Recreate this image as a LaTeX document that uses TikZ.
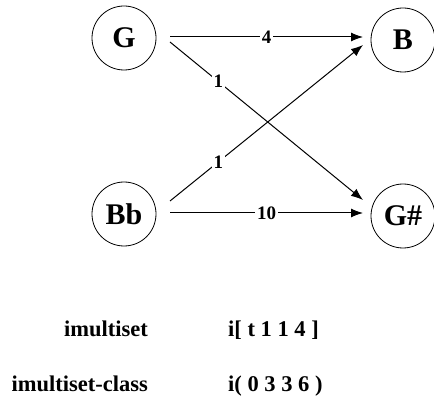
\documentclass[tikz,border=0pt]{standalone}
\usepackage{fontspec}
\setmainfont{Liberation Serif}
\usetikzlibrary{arrows.meta}
\begin{document}
\begin{tikzpicture}[x=1pt,y=-1pt,
  note/.style={circle,draw,line width=0.8pt,minimum size=64pt,inner sep=0pt,font=\fontsize{30}{32}\selectfont\bfseries},
  conn/.style={line width=1pt,-{Latex[length=12pt,width=9pt]}},
  wt/.style={fill=white,inner sep=2pt,font=\fontsize{19}{20}\selectfont\bfseries},
  lbl/.style={font=\fontsize{22.5}{24}\selectfont\bfseries}]
\useasboundingbox (0,0) rectangle (434,398);
\node[note] (G) at (124,38) {G};
\node[note] (B) at (403,40) {B};
\node[note] (Bb) at (124,214) {Bb};
\node[note] (Gs) at (403,216) {G\#};
\coordinate (g1) at (170,37);
\coordinate (b1) at (363,37);
\coordinate (g2) at (170,42);
\coordinate (s2) at (363,200);
\coordinate (bb1) at (170,201);
\coordinate (b2) at (363,45);
\coordinate (bb2) at (170,213);
\coordinate (s1) at (363,213);
\draw[conn] (g1) -- node[wt,pos=0.5] {4} (b1);
\draw[conn] (g2) -- node[wt,pos=0.25] {1} (s2);
\draw[conn] (bb1) -- node[wt,pos=0.25] {1} (b2);
\draw[conn] (bb2) -- node[wt,pos=0.5] {10} (s1);
\node[lbl,anchor=base east,inner sep=0pt] (t1) at (148,337) {imultiset};
\node[lbl,anchor=base east,inner sep=0pt] (t2) at (148,391) {imultiset-class};
\node[lbl,anchor=base west,inner sep=0pt] (v1) at (228,337) {i[ t 1 1 4 ]};
\node[lbl,anchor=base west,inner sep=0pt] (v2) at (228,391) {i( 0 3 3 6 )};
\end{tikzpicture}
\end{document}
